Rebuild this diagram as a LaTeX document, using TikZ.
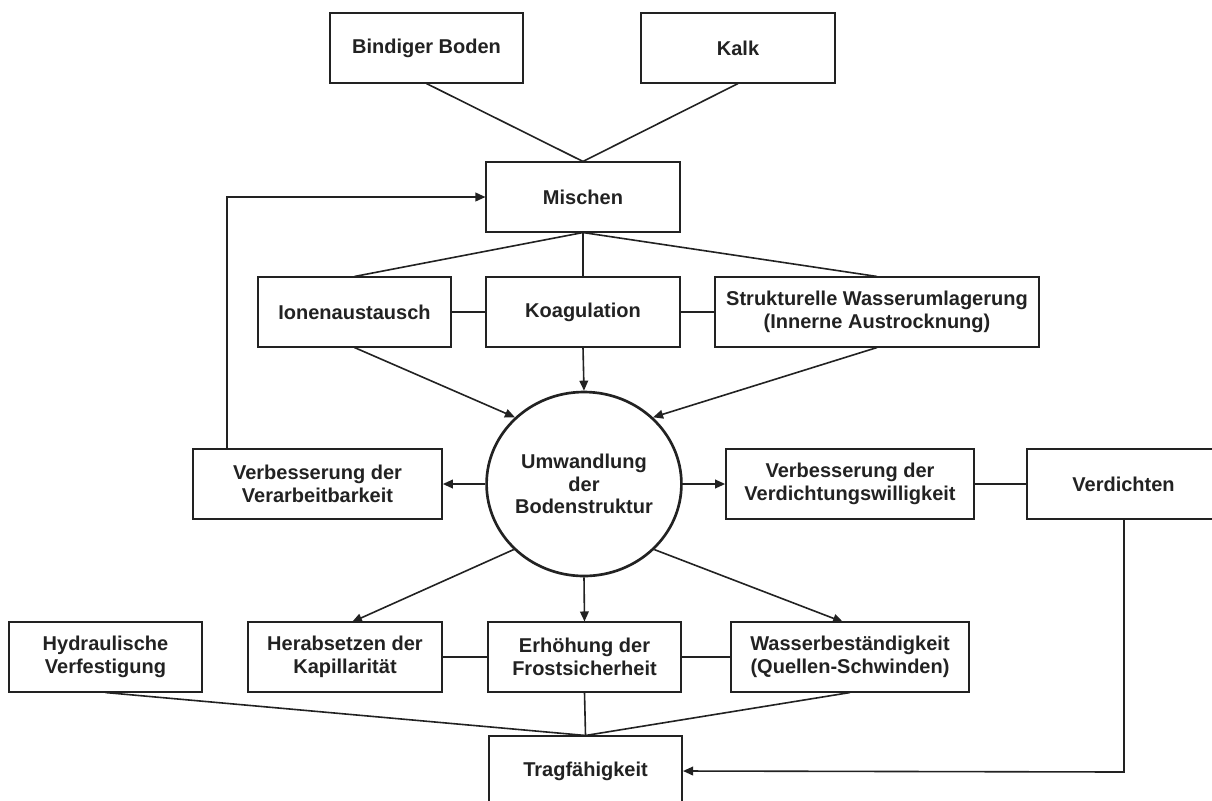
\documentclass[tikz,border=0pt]{standalone}
\usepackage{fontspec}
\setmainfont{Liberation Sans}
\usetikzlibrary{shapes.geometric,arrows.meta}
\definecolor{ink}{HTML}{222222}
\begin{document}
\begin{tikzpicture}[x=0.75pt,y=-0.75pt,
  box/.style={draw=ink,line width=1.3pt,rectangle,minimum width=145pt,minimum height=52pt,inner sep=0pt,align=center,
    font=\fontsize{15}{17}\selectfont\bfseries,text=ink},
  circ/.style={draw=ink,line width=2pt,ellipse,minimum width=146pt,minimum height=138pt,inner sep=0pt,align=center,
    font=\fontsize{15}{17}\selectfont\bfseries,text=ink},
  conn/.style={draw=ink,line width=1.2pt},
  arr/.style={conn,-{Triangle[length=7.5pt,width=6.5pt]}}]
\useasboundingbox (0,0) rectangle (1212,800);
\clip (0,0) rectangle (1212,800);
\fill[white] (0,0) rectangle (1212,800);
% nodes
\node[box] (bb) at (426.5,48) {Bindiger Boden};
\node[box] (kalk) at (738,48) {Kalk};
\node[box] (misch) at (583,197) {Mischen};
\node[box] (ionen) at (354.5,312) {Ionenaustausch};
\node[box] (koag) at (583,312) {Koagulation};
\node[box,minimum width=243pt] (strukt) at (877,312) {Strukturelle Wasserumlagerung\\(Innerne Austrocknung)};
\node[circ] (um) at (584,484) {Umwandlung\\der\\Bodenstruktur};
\node[box,minimum width=186.75pt] (verarb) at (317.5,484) {Verbesserung der\\Verarbeitbarkeit};
\node[box,minimum width=186pt] (verdw) at (850,484) {Verbesserung der\\Verdichtungswilligkeit};
\node[box] (verd) at (1123.5,484) {Verdichten};
\node[box] (hydr) at (105.5,657) {Hydraulische\\Verfestigung};
\node[box] (herab) at (345,657) {Herabsetzen der\\Kapillarität};
\node[box] (erh) at (584.5,657) {Erhöhung der\\Frostsicherheit};
\node[box,minimum width=178.5pt] (wasser) at (850,657) {Wasserbeständigkeit\\(Quellen-Schwinden)};
\node[box] (trag) at (585.5,771) {Tragfähigkeit};
% helper coordinates
\coordinate (loopup) at (227,197);
\coordinate (verarbtop) at (227,449);
\coordinate (herabtop) at (352,622);
\coordinate (wassertop) at (843,622);
\coordinate (verdcorner) at (1124,772);
\coordinate (verdbot) at (1124,519);
% connectors
\draw[conn] (bb.south) -- (misch.north);
\draw[conn] (kalk.south) -- (misch.north);
\draw[conn] (misch.south) -- (ionen.north);
\draw[conn] (misch.south) -- (koag.north);
\draw[conn] (misch.south) -- (strukt.north);
\draw[conn] (ionen.east) -- (koag.west);
\draw[conn] (koag.east) -- (strukt.west);
\draw[arr] (ionen.south) -- (um.136);
\draw[arr] (koag.south) -- (um.north);
\draw[arr] (strukt.south) -- (um.44);
\draw[arr] (um.west) -- (verarb.east);
\draw[arr] (um.east) -- (verdw.west);
\draw[conn] (verdw.east) -- (verd.west);
\draw[arr] (verarbtop) -- (loopup) -- (misch.west);
\draw[arr] (um.223) -- (herabtop);
\draw[arr] (um.south) -- (erh.north);
\draw[arr] (um.317) -- (wassertop);
\draw[conn] (herab.east) -- (erh.west);
\draw[conn] (erh.east) -- (wasser.west);
\draw[conn] (hydr.south) -- (trag.north);
\draw[conn] (erh.south) -- (trag.north);
\draw[conn] (wasser.south) -- (trag.north);
\draw[arr] (verdbot) -- (verdcorner) -- (trag.east);
\end{tikzpicture}
\end{document}
